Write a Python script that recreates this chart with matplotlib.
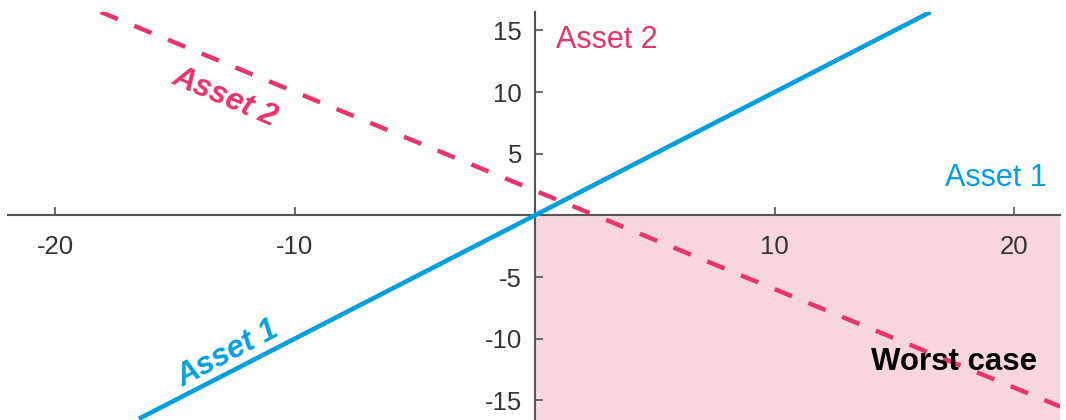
import numpy as np
from matplotlib import pyplot as plt

# data
asset1_x = [-16.5, 16.5]
asset1_y = [-16.5, 16.5]
asset2_x = [-18.1, 21.9]
asset2_y = [16.5, -15.5]
x_ticks = [-20, -10, 10, 20]
y_ticks = [-15, -10, -5, 5, 10, 15]

BLUE = '#00a0e0'
RED = '#e8336b'
PINK = '#f8d6de'
AXIS = '#555555'
TXT = '#333333'

plt.rcParams['font.family'] = ['Liberation Sans', 'DejaVu Sans']


def main():
    fig = plt.figure(figsize=(10.66, 4.2), dpi=100)
    ax = fig.add_axes([8 / 1066, 0, 1052 / 1066, 408 / 420])
    ax.set_xlim(-21.96, 21.9)
    ax.set_ylim(-16.6, 16.5)

    # worst case quadrant
    ax.fill_between([0, 21.9], -16.6, 0, color=PINK, lw=0, zorder=0)

    ax.plot(asset1_x, asset1_y, color=BLUE, lw=3.3, solid_capstyle='butt', zorder=3)
    ax.plot(asset2_x, asset2_y, color=RED, lw=3.2, dashes=(4.2, 4.0),
            dash_capstyle='butt', zorder=3)

    for side in ('top', 'right'):
        ax.spines[side].set_visible(False)
    for side in ('left', 'bottom'):
        ax.spines[side].set_position('zero')
        ax.spines[side].set_color(AXIS)
        ax.spines[side].set_linewidth(1.5)
    ax.set_xticks(x_ticks)
    ax.set_yticks(y_ticks)
    ax.set_xticklabels([str(v) for v in x_ticks])
    ax.set_yticklabels([str(v) for v in y_ticks])
    ax.tick_params(axis='x', direction='in', length=6, width=1.2, color=AXIS,
                   labelsize=18.5, labelcolor=TXT, pad=14)
    ax.tick_params(axis='y', direction='in', length=6, width=1.2, color=AXIS,
                   labelsize=18.5, labelcolor=TXT, pad=9)
    ax.patch.set_alpha(0)

    ax.text(0.9, 14.2, 'Asset 2', color=RED, fontsize=22, ha='left', va='center')
    ax.text(17.1, 3.0, 'Asset 1', color=BLUE, fontsize=22, ha='left', va='center')
    ax.text(-12.9, 9.6, 'Asset 2', color=RED, fontsize=22.5, fontweight='bold',
            fontstyle='italic', rotation=-23, rotation_mode='anchor',
            ha='center', va='center')
    ax.text(-12.8, -11.2, 'Asset 1', color=BLUE, fontsize=22.5, fontweight='bold',
            fontstyle='italic', rotation=28, rotation_mode='anchor',
            ha='center', va='center')
    ax.text(14.0, -11.9, 'Worst case', color='black', fontsize=22.5,
            fontweight='bold', ha='left', va='center', zorder=4)

    fig.savefig('out.png', dpi=100)


if __name__ == '__main__':
    main()
